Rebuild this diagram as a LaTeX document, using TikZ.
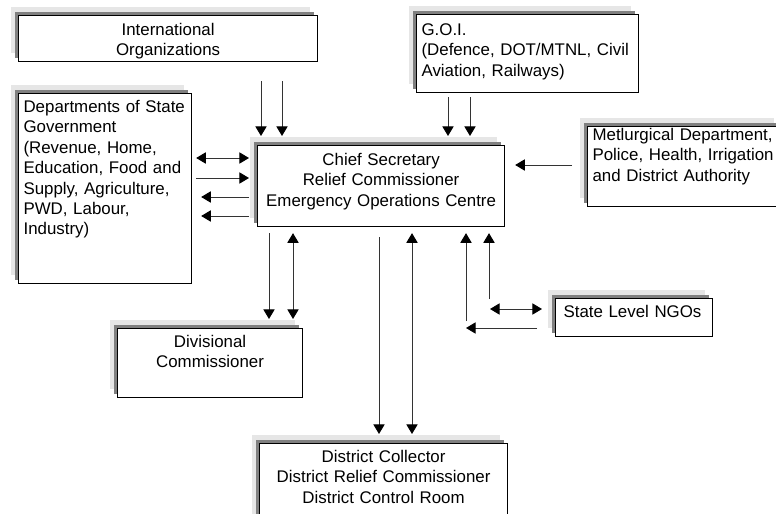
\documentclass[tikz,border=0pt]{standalone}
\usepackage{fontspec}
\setmainfont{Liberation Sans}
\usepackage{xcolor}
\usepackage{tikz}
\usetikzlibrary{
  arrows.meta,
  shadows,
  calc
}
\definecolor{ShadowLight}{HTML}{E6E6E6}
\definecolor{ShadowDark}{HTML}{808080}
\definecolor{LineDark}{HTML}{333333}
\tikzset{
  box/.style={
    draw=black,
    fill=white,
    line width=0.8pt,
    anchor=north west,
    inner xsep=0.125cm,
    inner ysep=0pt,
    font=\fontsize{12}{14.5}\selectfont,
    general shadow={
      draw=none,
      fill=ShadowLight,
      shadow xshift=-0.2cm,
      shadow yshift=0.225cm
    },
    general shadow={
      draw=none,
      fill=ShadowDark,
      shadow xshift=-0.1cm,
      shadow yshift=0.1cm
    }
  },
  leftbox/.style={
    box,
    align=left
  },
  centrebox/.style={
    box,
    align=center
  },
  link/.style={
    -{Triangle[length=2.4mm,width=2.8mm,color=black]},
    draw=LineDark,
    line width=0.7pt
  },
  bilink/.style={
    {Triangle[length=2.4mm,width=2.8mm,color=black]}-{Triangle[length=2.4mm,width=2.8mm,color=black]},
    draw=LineDark,
    line width=0.7pt
  }
}

\begin{document}
\begin{tikzpicture}[x=0.025cm, y=-0.025cm]

  \useasboundingbox (0,0) rectangle (776,513);
  \clip (0,0) rectangle (776,513);

  \node[
    centrebox,
    text width=7.225cm,
    text height=0.5cm,
    text depth=0.65cm
  ] (intl) at (18,15) {
    International\\
    Organizations
  };

  \node[
    leftbox,
    text width=5.3cm,
    text height=0.525cm,
    text depth=1.425cm
  ] (goi) at (416,14) {
    G.O.I.\\
    (Defence, DOT/MTNL, Civil\\
    Aviation, Railways)
  };

  \node[
    leftbox,
    text width=4.075cm,
    text height=0.475cm,
    text depth=4.275cm
  ] (depts) at (18,93) {
    Departments of State\\
    Government\\
    (Revenue, Home,\\
    Education, Food and\\
    Supply, Agriculture,\\
    PWD, Labour,\\
    Industry)
  };

  \node[
    centrebox,
    text width=5.925cm,
    text height=0.5cm,
    text depth=1.525cm
  ] (chief) at (257,145) {
    Chief Secretary\\
    Relief Commissioner\\
    Emergency Operations Centre
  };

  \node[
    leftbox,
    text width=4.6cm,
    text height=0.35cm,
    text depth=1.65cm
  ] (metl) at (587,126) {
    Metlurgical Department,\\
    Police, Health, Irrigation\\
    and District Authority
  };

  \node[
    centrebox,
    text width=4.375cm,
    text height=0.475cm,
    text depth=1.25cm
  ] (div) at (117,328) {
    Divisional\\
    Commissioner
  };

  \node[
    leftbox,
    inner xsep=0.2cm,
    text width=3.525cm,
    text height=0.475cm,
    text depth=0.475cm
  ] (ngo) at (555,298) {
    State Level NGOs
  };

  \node[
    centrebox,
    text width=5.95cm,
    text height=0.475cm,
    text depth=1.525cm
  ] (district) at (259,443) {
    District Collector\\
    District Relief Commissioner\\
    District Control Room
  };

  \draw[link] ($(intl.south west)+(243,19)$) -- ($(chief.north west)+(4,-9)$);
  \draw[link] ($(intl.south west)+(264,19)$) -- ($(chief.north west)+(25,-9)$);

  \draw[link] ($(goi.south west)+(32,4)$) -- ($(chief.north west)+(191,-9)$);
  \draw[link] ($(goi.south west)+(54,4)$) -- ($(chief.north west)+(213,-9)$);

  \draw[bilink] ($(depts.north east)+(4,65)$) -- ($(chief.north west)+(-8,13)$);
  \draw[link] ($(depts.north east)+(4,85)$) -- ($(chief.north west)+(-8,33)$);
  \draw[link] ($(chief.north west)+(-8,52)$) -- ($(depts.north east)+(9,104)$);
  \draw[link] ($(chief.north west)+(-8,71)$) -- ($(depts.north east)+(9,123)$);

  \draw[link] ($(metl.north west)+(-15,39)$) -- ($(chief.north east)+(10,20)$);

  \draw[link] ($(chief.south west)+(12,6)$) -- ($(div.north west)+(152,-9)$);
  \draw[bilink] ($(chief.south west)+(36,6)$) -- ($(div.north west)+(176,-9)$);

  \draw[link] ($(chief.south west)+(122,10)$) -- ($(district.north west)+(120,-9)$);
  \draw[bilink] ($(chief.south west)+(155,6)$) -- ($(district.north west)+(153,-9)$);

  \coordinate (ngolow) at ($(ngo.north west)+(-89,23)$);
  \coordinate (ngocorner) at ($(ngo.north west)+(-89,30)$);
  \coordinate (ngohigh) at ($(ngo.north west)+(-66,1)$);
  \draw[link] (ngolow) -- ($(chief.south west)+(209,6)$);
  \draw[link] ($(ngo.north west)+(-18,30)$) -- (ngocorner);
  \draw[link] (ngohigh) -- ($(chief.south west)+(232,6)$);
  \draw[bilink] ($(ngo.north west)+(-65,11)$) -- ($(ngo.north west)+(-13,11)$);

\end{tikzpicture}
\end{document}
